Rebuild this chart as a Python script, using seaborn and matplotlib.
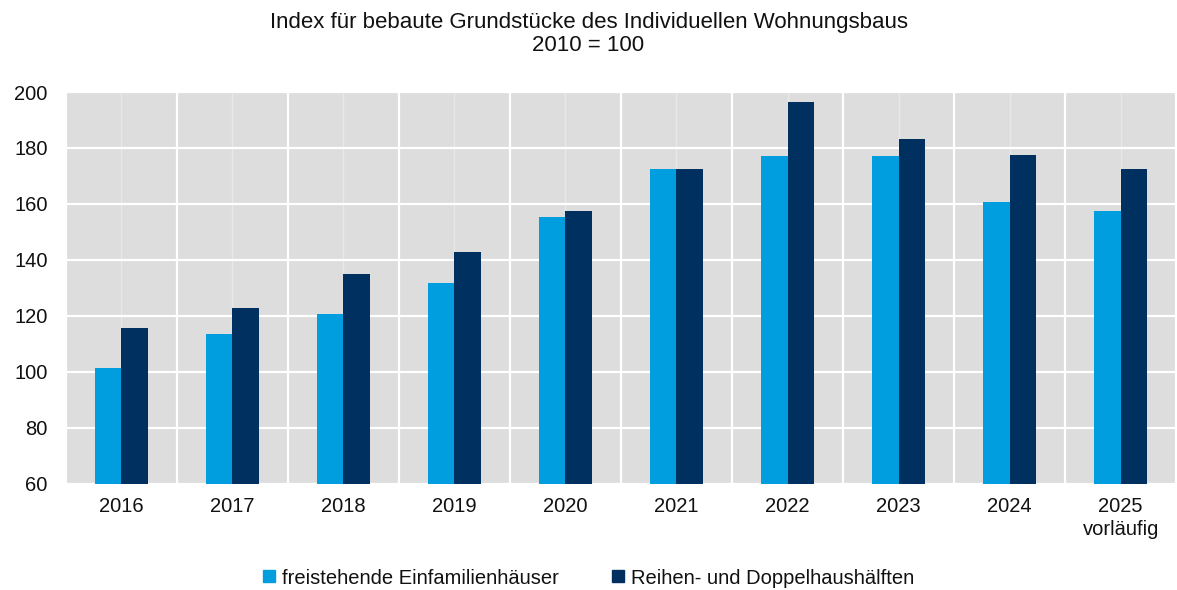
import pandas as pd
import numpy as np
import matplotlib.pyplot as plt
import seaborn as sns
from matplotlib.lines import Line2D

# Data
jahre = ['2016', '2017', '2018', '2019', '2020', '2021', '2022', '2023', '2024', '2025']
tick_labels = ['2016', '2017', '2018', '2019', '2020', '2021', '2022', '2023', '2024', '2025\nvorläufig']
einfamilien = [101.4, 113.5, 120.7, 131.7, 155.4, 172.5, 177.0, 177.0, 160.5, 157.3]
doppel = [115.5, 122.7, 134.8, 142.9, 157.3, 172.5, 196.4, 183.1, 177.5, 172.5]
serien = ['freistehende Einfamilienhäuser', 'Reihen- und Doppelhaushälften']
farben = ['#009DDF', '#00305F']

df = pd.DataFrame({
    'Jahr': jahre * 2,
    'Serie': [serien[0]] * len(jahre) + [serien[1]] * len(jahre),
    'Index': einfamilien + doppel,
})

sns.set_style('white')
plt.rcParams['font.family'] = ['Liberation Sans', 'DejaVu Sans']
plt.rcParams['text.color'] = '#111111'
plt.rcParams['xtick.color'] = '#111111'
plt.rcParams['ytick.color'] = '#111111'

fig = plt.figure(figsize=(11.77, 5.90), dpi=100)
ax = fig.add_axes([0.0558, 0.1805, 0.9435, 0.6635])
ax.set_facecolor('#DDDDDD')

sns.barplot(data=df, x='Jahr', y='Index', hue='Serie', palette=farben,
            width=0.48, gap=0, saturation=1, linewidth=0, legend=False, ax=ax, zorder=3)

ax.set_ylim(60, 200)
ax.set_yticks(np.arange(60, 201, 20))
ax.set_xlim(-0.5, len(jahre) - 0.5)
ax.set_xticks(range(len(jahre)))
ax.set_xticklabels(tick_labels)
ax.set_xticks(np.arange(-0.5, len(jahre), 1), minor=True)

ax.grid(axis='y', which='major', color='white', linewidth=1.6, zorder=1)
ax.grid(axis='x', which='minor', color='white', linewidth=1.6, zorder=1)
ax.grid(axis='x', which='major', color='#E8E8E8', linewidth=1.0, zorder=1)
ax.set_axisbelow(True)

ax.tick_params(axis='both', which='both', length=0)
ax.tick_params(axis='x', pad=10, labelsize=14.5)
ax.tick_params(axis='y', pad=13, labelsize=14.5)
for lbl in ax.get_xticklabels():
    lbl.set_linespacing(1.25)
    lbl.set_verticalalignment('top')
for s in ax.spines.values():
    s.set_visible(False)
ax.set_xlabel('')
ax.set_ylabel('')

fig.text(0.5, 1 - 34 / 590, 'Index für bebaute Grundstücke des Individuellen Wohnungsbaus\n2010 = 100',
         ha='center', va='center', fontsize=16, linespacing=1.1)

handles = [Line2D([], [], marker='s', linestyle='', markersize=8, color=c) for c in farben]
fig.legend(handles, serien, loc='center', bbox_to_anchor=(0.5, 1 - 578 / 590), ncol=2,
           frameon=False, fontsize=14.5, handlelength=0.6, handletextpad=0.35, columnspacing=2.6)

plt.savefig('out.png', dpi=100)
